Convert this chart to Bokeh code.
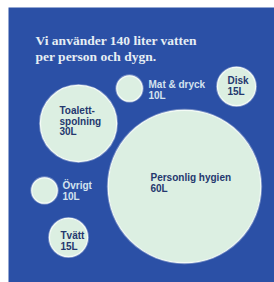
from bokeh.plotting import figure
from bokeh.models import Range1d, ColumnDataSource
from bokeh.core.properties import value
from bokeh.embed import file_html
from bokeh.resources import INLINE

# Data
categories = ["Personlig hygien", "Toalett-\nspolning", "Disk", "Tvätt", "Mat & dryck", "Övrigt"]
values = [60, 30, 15, 15, 10, 10]
unit = "L"
title_lines = ["Vi använder 140 liter vatten", "per person och dygn."]

# Layout (bubble centres, label anchors) in pixel units of the plot area
centers_x = [176, 70, 228, 60, 121, 36]
centers_y = [179, 116, 79, 230, 81, 183]
label_x = [142, 51, 219, 52, 140, 54]
label_y = [170, 103, 73, 228, 77, 178]
label_inside = [True, True, True, True, False, False]
px_per_unit = 1.27
line_gap = 10.5

W, H = 274, 282
ML, MT = 8, 7
BG = "#2b50a6"
BUBBLE = "#dcefe2"
DARK = "#24386e"
LIGHT = "#d3e3ef"

p = figure(width=W, height=H, output_backend="svg", toolbar_location=None,
           x_range=Range1d(0, W - ML), y_range=Range1d(H - MT, 0),
           min_border_left=ML, min_border_top=MT, min_border_right=0,
           min_border_bottom=0, background_fill_color=BG,
           border_fill_color="white", outline_line_color=None)
p.axis.visible = False
p.grid.visible = False

radii = [v * px_per_unit for v in values]
src = ColumnDataSource(dict(x=centers_x, y=centers_y, r=radii,
                            rg=[r + 1.5 for r in radii]))
# soft glow
p.circle(x="x", y="y", radius="rg", source=src, fill_color="white",
         fill_alpha=0.35, line_color=None)
p.circle(x="x", y="y", radius="r", source=src, fill_color=BUBBLE,
         line_color="#f4fbf6", line_width=1.2)

# labels
tx, ty, tt, tc = [], [], [], []
for cat, v, lx, ly, inside in zip(categories, values, label_x, label_y, label_inside):
    lines = cat.split("\n") + [f"{v}{unit}"]
    for i, ln in enumerate(lines):
        tx.append(lx)
        ty.append(ly + i * line_gap)
        tt.append(ln)
        tc.append(DARK if inside else LIGHT)
p.text(x="x", y="y", text="t", text_color="c",
       source=ColumnDataSource(dict(x=tx, y=ty, t=tt, c=tc)),
       text_font=value("Liberation Sans"), text_font_style="bold",
       text_font_size="7.5pt", text_baseline="middle", text_align="left")

# title
p.text(x=[27, 27], y=[33, 49], text=title_lines, text_color="#e6eef4",
       text_font=value("Liberation Serif"), text_font_style="bold",
       text_font_size="13.5px", text_baseline="middle", text_align="left")

open("out.html", "w").write(file_html(p, INLINE))
